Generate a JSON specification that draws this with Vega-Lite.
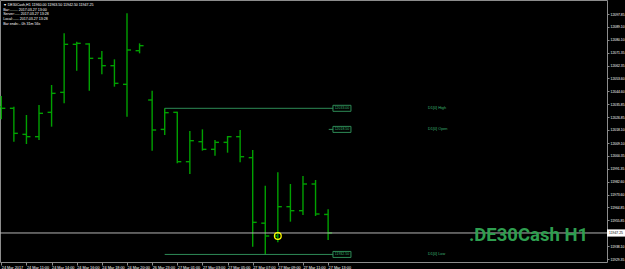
{
  "$schema": "https://vega.github.io/schema/vega-lite/v6.json",
  "width": 607,
  "height": 262,
  "autosize": {"type": "none"},
  "padding": {"left": 0, "top": 0, "right": 18, "bottom": 7},
  "background": "#000000",
  "config": {
    "view": {"stroke": "#8c8c8c", "strokeWidth": 1},
    "font": "Liberation Sans",
    "axis": {"labelOverlap": false, "labelSeparation": 0, "labelFont": "Liberation Sans"}
  },
  "datasets": {
    "bars": [
      {"i": 0, "t": "24 Mar 2017", "open": 12034.0, "high": 12041.46, "low": 12025.41, "close": 12033.0},
      {"i": 1, "t": "24 Mar 10:00", "open": 12033.0, "high": 12034.12, "low": 12010.05, "close": 12015.78},
      {"i": 2, "t": "24 Mar 11:00", "open": 12015.09, "high": 12028.39, "low": 12008.45, "close": 12013.49},
      {"i": 3, "t": "24 Mar 13:00", "open": 12013.49, "high": 12035.27, "low": 12011.2, "close": 12029.54},
      {"i": 4, "t": "24 Mar 14:00", "open": 12030.23, "high": 12049.03, "low": 12020.37, "close": 12043.29},
      {"i": 5, "t": "24 Mar 15:00", "open": 12043.98, "high": 12084.56, "low": 12036.42, "close": 12077.0},
      {"i": 6, "t": "24 Mar 16:00", "open": 12077.0, "high": 12078.83, "low": 12058.88, "close": 12077.68},
      {"i": 7, "t": "24 Mar 17:00", "open": 12077.23, "high": 12077.68, "low": 12045.13, "close": 12067.37},
      {"i": 8, "t": "24 Mar 18:00", "open": 12067.37, "high": 12072.41, "low": 12056.36, "close": 12062.32},
      {"i": 9, "t": "24 Mar 19:00", "open": 12062.32, "high": 12066.68, "low": 12047.88, "close": 12050.17},
      {"i": 10, "t": "24 Mar 20:00", "open": 12049.48, "high": 12098.32, "low": 12027.25, "close": 12073.1},
      {"i": 11, "t": "24 Mar 21:00", "open": 12072.64, "high": 12077.68, "low": 12070.81, "close": 12076.08},
      {"i": 12, "t": "26 Mar 23:00", "open": 12038.71, "high": 12045.13, "low": 12003.86, "close": 12018.07},
      {"i": 13, "t": "27 Mar 00:00", "open": 12018.5, "high": 12033.0, "low": 12014.64, "close": 12030.0},
      {"i": 14, "t": "27 Mar 01:00", "open": 12030.23, "high": 12030.69, "low": 11995.15, "close": 11996.29},
      {"i": 15, "t": "27 Mar 02:00", "open": 11996.29, "high": 12017.39, "low": 11987.81, "close": 12010.74},
      {"i": 16, "t": "27 Mar 03:00", "open": 12010.05, "high": 12018.53, "low": 12003.86, "close": 12004.78},
      {"i": 17, "t": "27 Mar 04:00", "open": 12004.78, "high": 12011.2, "low": 12000.42, "close": 12009.59},
      {"i": 18, "t": "27 Mar 05:00", "open": 12009.59, "high": 12013.95, "low": 12002.48, "close": 12013.49},
      {"i": 19, "t": "27 Mar 06:00", "open": 12013.49, "high": 12018.07, "low": 11995.84, "close": 11999.73},
      {"i": 20, "t": "27 Mar 07:00", "open": 11999.05, "high": 12004.32, "low": 11937.83, "close": 11954.57},
      {"i": 21, "t": "27 Mar 08:00", "open": 11954.0, "high": 11979.79, "low": 11932.5, "close": 11945.17},
      {"i": 22, "t": "27 Mar 09:00", "open": 11945.17, "high": 11988.96, "low": 11940.81, "close": 11965.34},
      {"i": 23, "t": "27 Mar 10:00", "open": 11965.34, "high": 11980.93, "low": 11955.03, "close": 11962.59},
      {"i": 24, "t": "27 Mar 11:00", "open": 11962.59, "high": 11986.44, "low": 11959.61, "close": 11980.93},
      {"i": 25, "t": "27 Mar 12:00", "open": 11980.93, "high": 11983.68, "low": 11958.92, "close": 11960.3},
      {"i": 26, "t": "27 Mar 13:00", "open": 11960.0, "high": 11963.5, "low": 11942.5, "close": 11947.25}
    ],
    "levels": [
      {"name": "D1[0] High", "price": 12033.0, "start": 13, "end": 26.4},
      {"name": "D1[0] Open", "price": 12018.5, "start": 26.05, "end": 26.4},
      {"name": "D1[0] Low", "price": 11932.5, "start": 13, "end": 26.4}
    ]
  },
  "layer": [
    {
      "data": {"name": "bars"},
      "mark": {"type": "rule", "color": "#00a000", "strokeWidth": 1.4},
      "encoding": {
        "x": {
          "field": "i", "type": "quantitative",
          "scale": {"domain": [-0.1034, 48.186], "nice": false, "zero": false},
          "axis": {
            "orient": "bottom", "title": null, "grid": false, "domain": false,
            "values": [0, 2, 4, 6, 8, 10, 12, 14, 16, 18, 20, 22, 24, 26],
            "tickCount": 100,
            "labelExpr": "['24 Mar 2017','24 Mar 11:00','24 Mar 14:00','24 Mar 16:00','24 Mar 18:00','24 Mar 20:00','26 Mar 23:00','27 Mar 01:00','27 Mar 03:00','27 Mar 05:00','27 Mar 07:00','27 Mar 09:00','27 Mar 11:00','27 Mar 13:00'][round(datum.value/2)]",
            "tickColor": "#8c8c8c", "tickSize": 3, "labelColor": "#ffffff", "labelFontSize": 3.8,
            "labelAlign": "left", "labelBaseline": "top", "labelPadding": 0,
            "labelFlush": false, "labelOverlap": false, "labelBound": false
          }
        },
        "y": {
          "field": "low", "type": "quantitative",
          "scale": {"domain": [11927.29, 12107.49], "nice": false, "zero": false},
          "axis": {
            "orient": "right", "title": null, "grid": false, "domain": false,
            "values": [11929.35, 11938.1, 11955.85, 11964.85, 11973.6, 11982.6, 11991.35, 12000.35, 12009.1, 12018.1, 12026.85, 12035.85, 12044.6, 12053.6, 12062.35, 12071.35, 12080.1, 12089.1, 12097.85],
            "tickCount": 100,
            "format": ".2f", "tickColor": "#8c8c8c", "tickSize": 2, "labelColor": "#ffffff",
            "labelFontSize": 3.4, "labelPadding": 1, "labelOverlap": false, "labelSeparation": 0,
            "labelFlush": false, "labelBound": false
          }
        },
        "y2": {"field": "high"}
      }
    },
    {
      "data": {"name": "bars"},
      "mark": {"type": "rule", "color": "#00a000", "strokeWidth": 1.4, "x2Offset": -4},
      "encoding": {
        "x": {"field": "i", "type": "quantitative"},
        "x2": {"field": "i"},
        "y": {"field": "open", "type": "quantitative"}
      }
    },
    {
      "data": {"name": "bars"},
      "mark": {"type": "rule", "color": "#00a000", "strokeWidth": 1.4, "x2Offset": 4},
      "encoding": {
        "x": {"field": "i", "type": "quantitative"},
        "x2": {"field": "i"},
        "y": {"field": "close", "type": "quantitative"}
      }
    },
    {
      "data": {"values": [{"price": 11947.25}]},
      "mark": {"type": "rule", "color": "#b4b4b4", "strokeWidth": 1},
      "encoding": {"y": {"field": "price", "type": "quantitative"}}
    },
    {
      "data": {"name": "levels"},
      "mark": {"type": "rule", "color": "#2e8b57", "strokeWidth": 1},
      "encoding": {
        "x": {"field": "start", "type": "quantitative"},
        "x2": {"field": "end"},
        "y": {"field": "price", "type": "quantitative"}
      }
    },
    {
      "data": {"name": "levels"},
      "mark": {"type": "point", "shape": "M-1,-0.333H1V0.333H-1Z", "size": 324, "filled": false, "stroke": "#2e8b57", "strokeWidth": 1, "opacity": 1},
      "encoding": {
        "x": {"datum": 27.1},
        "y": {"field": "price", "type": "quantitative"}
      }
    },
    {
      "data": {"name": "levels"},
      "mark": {"type": "text", "fontSize": 3.5, "color": "#3cb371", "align": "center", "baseline": "middle"},
      "encoding": {
        "x": {"datum": 27.1},
        "y": {"field": "price", "type": "quantitative"},
        "text": {"field": "price", "type": "quantitative", "format": ".2f"}
      }
    },
    {
      "data": {"name": "levels"},
      "mark": {"type": "text", "fontSize": 3.8, "color": "#3cb371", "align": "left", "baseline": "middle"},
      "encoding": {
        "x": {"datum": 33.95},
        "y": {"field": "price", "type": "quantitative"},
        "text": {"field": "name"}
      }
    },
    {
      "data": {"values": [{"price": 11947.25}]},
      "mark": {"type": "point", "shape": "M-1,-0.4H1V0.4H-1Z", "size": 324, "filled": true, "fill": "#ffffff", "opacity": 1, "strokeWidth": 0},
      "encoding": {
        "x": {"datum": 48.9},
        "y": {"field": "price", "type": "quantitative"}
      }
    },
    {
      "data": {"values": [{"price": 11947.25}]},
      "mark": {"type": "text", "fontSize": 3.4, "color": "#000000", "align": "center", "baseline": "middle"},
      "encoding": {
        "x": {"datum": 48.9},
        "y": {"field": "price", "type": "quantitative"},
        "text": {"field": "price", "type": "quantitative", "format": ".2f"}
      }
    },
    {
      "data": {"values": [{"price": 11945.17}]},
      "mark": {"type": "point", "shape": "circle", "size": 45, "filled": false, "stroke": "#ffff00", "strokeWidth": 1.3, "opacity": 1},
      "encoding": {
        "x": {"datum": 22},
        "y": {"field": "price", "type": "quantitative"}
      }
    },
    {
      "data": {"values": [{"label": ".DE30Cash H1"}]},
      "mark": {"type": "text", "fontSize": 18.5, "fontWeight": "bold", "font": "Roboto", "color": "#2e9e4f", "align": "right", "baseline": "alphabetic"},
      "encoding": {
        "x": {"datum": 46.68},
        "y": {"datum": 11941.7},
        "text": {"field": "label"}
      }
    },
    {
      "data": {"values": [{"info": "header"}]},
      "mark": {"type": "text", "fontSize": 3.6, "color": "#ffffff", "align": "left", "baseline": "top", "lineHeight": 4.8},
      "encoding": {
        "x": {"datum": 0.15},
        "y": {"datum": 12105.6},
        "text": {"value": ["▼ DE30Cash,H1  11960.00 11963.50 11942.50 11947.25", "Bar:........ 2017.03.27 13:00", "Server:..... 2017.03.27 13:28", "Local:...... 2017.03.27 13:28", "Bar ends:.. 0h 31m 56s"]}
      }
    }
  ]
}
